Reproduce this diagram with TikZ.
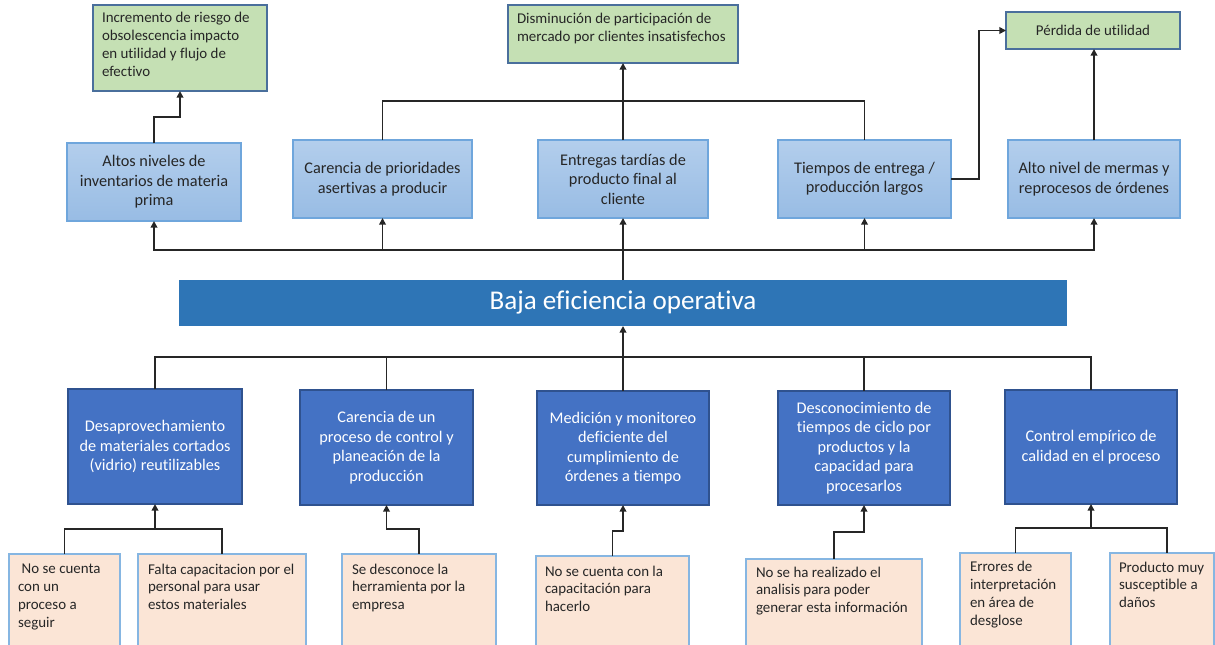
\documentclass[tikz,border=0pt]{standalone}
\usepackage{fontspec}
\setmainfont{Carlito}[Ligatures=NoCommon]
\usetikzlibrary{arrows.meta,calc}

\definecolor{lbtop}{HTML}{B3CEEC}
\definecolor{lbbot}{HTML}{98BCE4}
\definecolor{lbline}{HTML}{6FA6DC}
\definecolor{grfill}{HTML}{C5E0B4}
\definecolor{grline}{HTML}{4A6F9C}
\definecolor{dbfill}{HTML}{4472C4}
\definecolor{dbline}{HTML}{2F528F}
\definecolor{pcfill}{HTML}{FBE5D6}
\definecolor{pcline}{HTML}{86B6E2}
\definecolor{barfill}{HTML}{2E75B6}
\definecolor{wire}{HTML}{262626}
\definecolor{ink}{HTML}{262626}

% box given by its corners in pixel units: name, style, x1, y1, x2, y2, text
\newcommand\boxxy[7]{%
  \node[#2, minimum width={(#5-#3)*0.75pt}, minimum height={(#6-#4)*0.75pt}]
    (#1) at ({(#3+#5)/2},{(#4+#6)/2}) {#7};}

\begin{document}
\begin{tikzpicture}[x=0.75pt,y=-0.75pt,
  every node/.style={inner sep=0pt, outer sep=0pt},
  effectbox/.style={draw=grline, line width=0.9pt, fill=grfill},
  topbox/.style={draw=lbline, line width=0.9pt, top color=lbtop, bottom color=lbbot,
    align=center, text=ink, font=\fontsize{12.2}{14.6}\selectfont},
  causebox/.style={draw=dbline, line width=0.9pt, fill=dbfill,
    align=center, text=white, font=\fontsize{12.2}{14.6}\selectfont},
  rootbox/.style={draw=pcline, line width=0.9pt, fill=pcfill},
  % left-aligned text, placed by the baseline of its last line
  ltext/.style={align=left, text=ink, font=\fontsize{11.2}{13.3}\selectfont, anchor=base west},
  link/.style={draw=wire, line width=1.3pt},
  arr/.style={link, -{Triangle[length=5pt,width=5pt]}}]

\useasboundingbox (0,0) rectangle (1215,644);
\clip (0,0) rectangle (1215,644);

% effects
\boxxy{G1}{effectbox}{93}{5}{267}{91}{}
\node[ltext] (G1t) at (102,76) {Incremento de riesgo de\\obsolescencia impacto\\en utilidad y flujo de\\efectivo};
\boxxy{G2}{effectbox}{508}{5}{738}{63}{}
\node[ltext] (G2t) at (517,41) {Disminución de participación de\\mercado por clientes insatisfechos};
\boxxy{G3}{effectbox, text=ink, font=\fontsize{11.2}{13.3}\selectfont}{1006}{12}{1180}{49}{Pérdida de utilidad}

% direct consequences
\boxxy{B1}{topbox}{67}{143}{241}{221}{Altos niveles de\\inventarios de materia\\prima}
\boxxy{B2}{topbox}{293}{140}{472}{218}{Carencia de prioridades\\asertivas a producir}
\boxxy{B3}{topbox}{538}{140}{708}{218}{Entregas tardías de\\producto final al\\cliente}
\boxxy{B4}{topbox}{778}{140}{951}{218}{Tiempos de entrega /\\producción largos}
\boxxy{B5}{topbox}{1008}{140}{1180}{218}{Alto nivel de mermas y\\reprocesos de órdenes}

% central problem
\boxxy{bar}{fill=barfill, text=white, font=\fontsize{20.3}{24}\selectfont}{179}{280}{1067}{326}{Baja eficiencia operativa}

% causes
\boxxy{D1}{causebox}{68}{389}{242}{504}{Desaprovechamiento\\de materiales cortados\\(vidrio) reutilizables}
\boxxy{D2}{causebox}{300}{390}{473}{505}{Carencia de un\\proceso de control y\\planeación de la\\producción}
\boxxy{D3}{causebox}{537}{391}{709}{505}{Medición y monitoreo\\deficiente del\\cumplimiento de\\órdenes a tiempo}
\boxxy{D4}{causebox}{778}{391}{950}{505}{Desconocimiento de\\tiempos de ciclo por\\productos y la\\capacidad para\\procesarlos}
\boxxy{D5}{causebox}{1005}{390}{1177}{504}{Control empírico de\\calidad en el proceso}

% root causes
\boxxy{P1}{rootbox}{9}{554}{120}{700}{}
\node[ltext] (P1t) at (18,627) {\hspace*{0.25em}No se cuenta\\con un\\proceso a\\seguir};
\boxxy{P2}{rootbox}{138}{554}{306}{700}{}
\node[ltext] (P2t) at (148,609.5) {Falta capacitacion por el\\personal para usar\\estos materiales};
\boxxy{P3}{rootbox}{342}{554}{496}{700}{}
\node[ltext] (P3t) at (352,609.5) {Se desconoce la\\herramienta por la\\empresa};
\boxxy{P4}{rootbox}{536}{556}{689}{700}{}
\node[ltext] (P4t) at (545,611.5) {No se cuenta con la\\capacitación para\\hacerlo};
\boxxy{P5}{rootbox}{746}{559}{922}{700}{}
\node[ltext] (P5t) at (756,612.5) {No se ha realizado el\\analisis para poder\\generar esta información};
\boxxy{P6}{rootbox}{960}{553}{1071}{700}{}
\node[ltext] (P6t) at (970,625) {Errores de\\interpretación\\en área de\\desglose};
\boxxy{P7}{rootbox}{1110}{553}{1214}{700}{}
\node[ltext] (P7t) at (1119,607.5) {Producto muy\\susceptible a\\daños};
\coordinate (P7top) at ($(P7.north west)+(57,0)$);

% problem -> consequences
\draw[link] (bar.north) -- ++(0,-30) coordinate (jt);
\draw[arr] (jt) -| (B1.south);
\draw[arr] (jt) -| (B2.south);
\draw[arr] (jt) -- (B3.south);
\draw[arr] (jt) -| (B4.south);
\draw[arr] (jt) -| (B5.south);

% consequences -> effects
\draw[arr] (B1.north) -- ++(0,-26) -| (G1.south);
\coordinate (jg) at ($(B3.north)+(0,-39)$);
\draw[link] (B2.north) |- (jg) -| (B4.north);
\draw[arr] (B3.north) -- (G2.south);
\draw[arr] (B4.east) -- ++(28,0) |- (G3.west);
\draw[arr] (B5.north) -- (B5.north |- G3.south);

% causes -> problem
\coordinate (jb) at ($(bar.south)+(0,31)$);
\draw[link] (D1.north) |- (jb) -| (D5.north);
\draw[link] (D2.north) -- (D2.north |- jb);
\draw[link] (D4.north) -- (D4.north |- jb);
\draw[arr] (D3.north) -- (bar.south);

% root causes -> causes
\draw[link] (P1.north) -- ++(0,-25) coordinate (j1) -| (P2.north);
\draw[arr] (j1 -| D1.south) -- (D1.south);
\draw[arr] (P3.north) -- ++(0,-25) -| (D2.south);
\draw[arr] (P4.north) -- ++(0,-25) -| (D3.south);
\draw[arr] (P5.north) -- ++(0,-27) -| (D4.south);
\draw[link] (P6.north) -- ++(0,-25) coordinate (j6) -| (P7top);
\draw[arr] (j6 -| D5.south) -- (D5.south);
\end{tikzpicture}
\end{document}
